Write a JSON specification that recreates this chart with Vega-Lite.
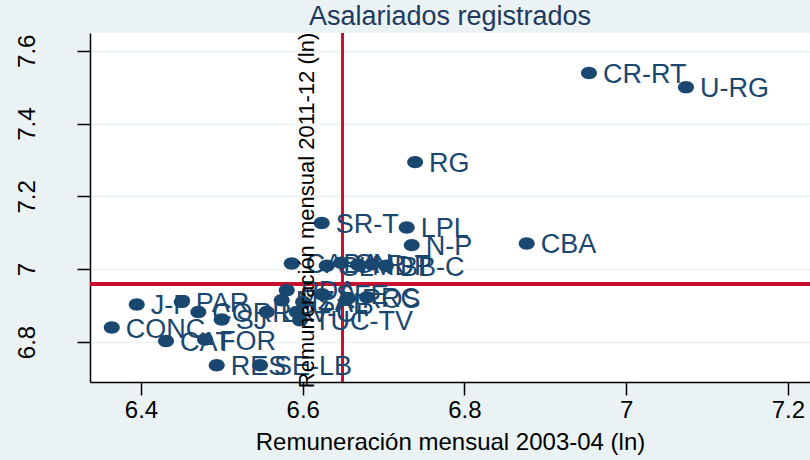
{
  "$schema": "https://vega.github.io/schema/vega-lite/v6.json",
  "width": 720,
  "height": 349,
  "autosize": "none",
  "padding": {"left": 90, "top": 33, "right": 0, "bottom": 78},
  "background": "#eaf2f3",
  "view": {"fill": "white", "stroke": null},
  "config": {"font": "Liberation Sans"},
  "title": {"text": "Asalariados registrados", "fontSize": 27, "fontWeight": "normal", "color": "#1f3a5f", "anchor": "middle", "offset": 1, "font": "Liberation Sans"},
  "data": {"values": [
    {"region": "CR-RT", "x": 6.954, "y": 7.539},
    {"region": "U-RG", "x": 7.074, "y": 7.500},
    {"region": "RG", "x": 6.739, "y": 7.294},
    {"region": "SR-T", "x": 6.6235, "y": 7.127},
    {"region": "LPL", "x": 6.7286, "y": 7.1146},
    {"region": "N-P", "x": 6.7348, "y": 7.066},
    {"region": "CBA", "x": 6.877, "y": 7.0707},
    {"region": "CABA", "x": 6.5864, "y": 7.0157},
    {"region": "SL", "x": 6.6297, "y": 7.0096},
    {"region": "SN", "x": 6.6474, "y": 7.0179},
    {"region": "MDP", "x": 6.6684, "y": 7.0124},
    {"region": "R-T", "x": 6.6857, "y": 7.0137},
    {"region": "BB-C", "x": 6.703, "y": 7.0096},
    {"region": "PDA", "x": 6.5802, "y": 6.9423},
    {"region": "MZA", "x": 6.574, "y": 6.9148},
    {"region": "SAL", "x": 6.6004, "y": 6.9101},
    {"region": "SFE", "x": 6.6239, "y": 6.9313},
    {"region": "ROS", "x": 6.656, "y": 6.9203},
    {"region": "RC", "x": 6.6795, "y": 6.923},
    {"region": "LR", "x": 6.5555, "y": 6.8826},
    {"region": "V-CP", "x": 6.5926, "y": 6.8826},
    {"region": "TUC-TV", "x": 6.5967, "y": 6.8598},
    {"region": "J-P", "x": 6.3947, "y": 6.903},
    {"region": "PAR", "x": 6.4503, "y": 6.9101},
    {"region": "CORR", "x": 6.4709, "y": 6.8826},
    {"region": "SJ", "x": 6.4998, "y": 6.8617},
    {"region": "CONC", "x": 6.3638, "y": 6.8397},
    {"region": "CAT", "x": 6.4309, "y": 6.8029},
    {"region": "FOR", "x": 6.4792, "y": 6.8067},
    {"region": "RES", "x": 6.4936, "y": 6.7361},
    {"region": "SE-LB", "x": 6.5472, "y": 6.7361}
  ]},
  "layer": [
    {
      "mark": {"type": "rule", "color": "#c8102e", "strokeWidth": 2.5},
      "encoding": {"x": {"datum": 6.649, "type": "quantitative", "scale": {"domain": [6.3369, 7.2274], "nice": false, "zero": false}, "title": "Remuneración mensual 2003-04 (ln)"}}
    },
    {
      "mark": {"type": "rule", "color": "#c8102e", "strokeWidth": 2.5},
      "encoding": {"y": {"datum": 6.959, "type": "quantitative", "scale": {"domain": [6.69, 7.6487], "nice": false, "zero": false}, "axis": null}}
    },
    {
      "mark": {"type": "point", "filled": true, "opacity": 1, "color": "#1a476f", "size": 256, "shape": "M-1,0A1,0.78,0,1,0,1,0A1,0.78,0,1,0,-1,0Z"},
      "encoding": {
        "x": {
          "field": "x", "type": "quantitative",
          "scale": {"domain": [6.3369, 7.2274], "nice": false, "zero": false},
          "title": "Remuneración mensual 2003-04 (ln)",
          "axis": {
            "values": [6.4, 6.6, 6.8, 7, 7.2], "format": "~g", "grid": false,
            "titleFontSize": 24, "titleFontWeight": "normal", "titleColor": "black", "titlePadding": 8,
            "labelFontSize": 24, "labelColor": "black", "labelPadding": 3,
            "tickColor": "black", "tickSize": 13, "tickWidth": 1.5,
            "domainColor": "black", "domainWidth": 1.5
          }
        },
        "y": {
          "field": "y", "type": "quantitative",
          "scale": {"domain": [6.69, 7.6487], "nice": false, "zero": false},
          "axis": {
            "values": [6.8, 7, 7.2, 7.4, 7.6], "format": "~g", "title": null,
            "grid": true, "gridColor": "#eaf2f3", "gridWidth": 1.5,
            "labelFontSize": 24, "labelColor": "black", "labelAngle": 270, "labelAlign": "center", "labelBaseline": "bottom", "labelPadding": 38,
            "tickColor": "black", "tickSize": 13, "tickWidth": 1.5,
            "domainColor": "black", "domainWidth": 1.5, "zindex": 0
          }
        }
      }
    },
    {
      "mark": {"type": "text", "align": "left", "baseline": "middle", "dx": 14, "dy": 2, "fontSize": 27, "color": "#1a476f"},
      "encoding": {
        "text": {"field": "region"},
        "x": {
          "field": "x", "type": "quantitative",
          "scale": {"domain": [6.3369, 7.2274], "nice": false, "zero": false},
          "title": "Remuneración mensual 2003-04 (ln)"
        },
        "y": {
          "field": "y", "type": "quantitative",
          "scale": {"domain": [6.69, 7.6487], "nice": false, "zero": false},
          "axis": {
            "orient": "left", "title": "Remuneración mensual 2011-12 (ln)",
            "labels": false, "ticks": false, "domain": false, "grid": false,
            "titleFontSize": 22, "titleFontWeight": "normal", "titleColor": "black",
            "titleAngle": 270, "titleAlign": "center", "titleBaseline": "middle",
            "titleX": 216, "titleY": 177, "zindex": 1
          }
        }
      }
    }
  ],
  "resolve": {"axis": {"y": "independent"}}
}
